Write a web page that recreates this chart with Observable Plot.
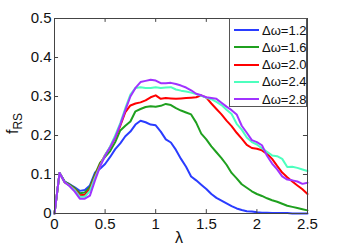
<!DOCTYPE html>
<html><head><meta charset="utf-8">
<script src="https://cdn.jsdelivr.net/npm/d3@7"></script>
<script src="https://cdn.jsdelivr.net/npm/@observablehq/plot@0.6"></script>
<style>
body{margin:0;background:#fff;font-family:"Liberation Sans",Arial,sans-serif;}
#wrap{position:relative;width:339px;height:251px;}
#legend{position:absolute;left:229px;top:18px;width:78px;height:89px;border:1px solid #555;background:#fff;box-sizing:border-box;}
.row{position:absolute;left:4px;height:17px;display:flex;align-items:center;font-size:13px;color:#111;}
.row svg{margin-right:3px;}
#ylab{position:absolute;left:4px;top:134px;transform:rotate(-90deg);transform-origin:left top;font-size:16px;color:#111;white-space:nowrap;}
#ylab sub{font-size:12px;}
#xlab{position:absolute;left:175px;top:229px;font-size:16px;color:#111;}
</style></head>
<body><div id="wrap"></div>
<script>
const lambda = [0,0.05,0.1,0.15,0.2,0.25,0.3,0.35,0.4,0.45,0.5,0.55,0.6,0.65,0.7,0.75,0.8,0.85,0.9,0.95,1.0,1.05,1.1,1.15,1.2,1.25,1.3,1.35,1.4,1.45,1.5,1.55,1.6,1.65,1.7,1.75,1.8,1.85,1.9,1.95,2.0,2.05,2.1,2.15,2.2,2.25,2.3,2.35,2.4,2.45,2.5];
const f12 = [0,0.104,0.082,0.075,0.067,0.058,0.06,0.072,0.105,0.115,0.127,0.145,0.165,0.18,0.198,0.21,0.228,0.238,0.234,0.228,0.226,0.21,0.19,0.182,0.163,0.14,0.12,0.095,0.085,0.074,0.063,0.05,0.04,0.033,0.026,0.019,0.013,0.009,0.006,0.005,0.003,0.002,0.002,0.001,0.001,0.001,0.001,0,0,0,0];
const f16 = [0,0.104,0.082,0.074,0.065,0.052,0.054,0.068,0.1,0.13,0.145,0.16,0.183,0.213,0.225,0.236,0.262,0.268,0.273,0.275,0.274,0.276,0.281,0.278,0.27,0.264,0.259,0.254,0.233,0.205,0.19,0.172,0.157,0.142,0.125,0.104,0.09,0.075,0.066,0.057,0.05,0.045,0.039,0.034,0.03,0.025,0.02,0.017,0.014,0.011,0.008];
const f20 = [0,0.104,0.08,0.072,0.062,0.047,0.048,0.062,0.095,0.125,0.15,0.17,0.195,0.225,0.26,0.277,0.282,0.285,0.29,0.298,0.303,0.294,0.296,0.295,0.294,0.295,0.296,0.297,0.298,0.303,0.297,0.282,0.268,0.254,0.238,0.224,0.207,0.192,0.176,0.168,0.166,0.162,0.153,0.14,0.122,0.105,0.093,0.082,0.072,0.062,0.05];
const f24 = [0,0.104,0.08,0.071,0.06,0.043,0.043,0.058,0.092,0.122,0.15,0.172,0.2,0.232,0.27,0.305,0.322,0.324,0.322,0.322,0.324,0.322,0.323,0.324,0.318,0.315,0.313,0.31,0.306,0.302,0.297,0.293,0.286,0.278,0.266,0.255,0.23,0.215,0.195,0.183,0.177,0.167,0.158,0.149,0.147,0.14,0.119,0.12,0.117,0.113,0.109];
const f28 = [0,0.104,0.08,0.07,0.056,0.038,0.038,0.046,0.085,0.12,0.148,0.17,0.195,0.228,0.265,0.3,0.322,0.337,0.34,0.343,0.341,0.334,0.334,0.335,0.332,0.328,0.323,0.316,0.307,0.303,0.298,0.296,0.294,0.284,0.274,0.265,0.254,0.225,0.207,0.188,0.183,0.175,0.148,0.128,0.113,0.095,0.087,0.085,0.082,0.076,0.079];
const seriesNames = ["Δω=1.2","Δω=1.6","Δω=2.0","Δω=2.4","Δω=2.8"];
const seriesValues = [f12,f16,f20,f24,f28];
const colors = ["#2a3cff","#1fa01f","#ff0000","#4dffbe","#a033ff"];
const xTicks = [0,0.5,1,1.5,2,2.5];
const yTicks = [0,0.1,0.2,0.3,0.4,0.5];

const data = [];
seriesNames.forEach((s,i)=>lambda.forEach((x,j)=>data.push({series:s,x,y:seriesValues[i][j]})));

const axisColor = "#444";
const chart = Plot.plot({
  width:339, height:251,
  marginLeft:54, marginRight:32, marginTop:18, marginBottom:38,
  style:{fontFamily:"'Liberation Sans',Arial,sans-serif",fontSize:"15px",color:"#111",background:"#fff"},
  x:{domain:[0,2.5],label:null,ticks:xTicks,tickFormat:d=>String(d),tickSize:0,tickPadding:5},
  y:{domain:[0,0.5],label:null,ticks:yTicks,tickFormat:d=>String(d),tickSize:0,tickPadding:3},
  color:{domain:seriesNames,range:colors},
  marks:[
    Plot.lineY(data,{x:"x",y:"y",z:"series",stroke:"series",strokeWidth:2}),
    Plot.ruleX(xTicks,{x:d=>d,y1:0,y2:0.01,stroke:axisColor}),
    Plot.ruleX(xTicks,{x:d=>d,y1:0.49,y2:0.5,stroke:axisColor}),
    Plot.ruleY(yTicks,{y:d=>d,x1:0,x2:0.04,stroke:axisColor}),
    Plot.ruleY(yTicks,{y:d=>d,x1:2.46,x2:2.5,stroke:axisColor}),
    Plot.frame({stroke:axisColor})
  ]
});
const wrap = document.getElementById("wrap");
wrap.appendChild(chart);

const leg = document.createElement("div");
leg.id = "legend";
seriesNames.forEach((s,i)=>{
  const r = document.createElement("div");
  r.className = "row";
  r.style.top = (2.5 + i*17.3) + "px";
  r.innerHTML = `<svg width="25" height="4"><line x1="0" y1="2" x2="25" y2="2" stroke="${colors[i]}" stroke-width="2"/></svg><span>${s}</span>`;
  leg.appendChild(r);
});
wrap.appendChild(leg);

const yl = document.createElement("div");
yl.id = "ylab";
yl.innerHTML = "f<sub>RS</sub>";
wrap.appendChild(yl);
const xl = document.createElement("div");
xl.id = "xlab";
xl.textContent = "λ";
wrap.appendChild(xl);
</script>
</body></html>
